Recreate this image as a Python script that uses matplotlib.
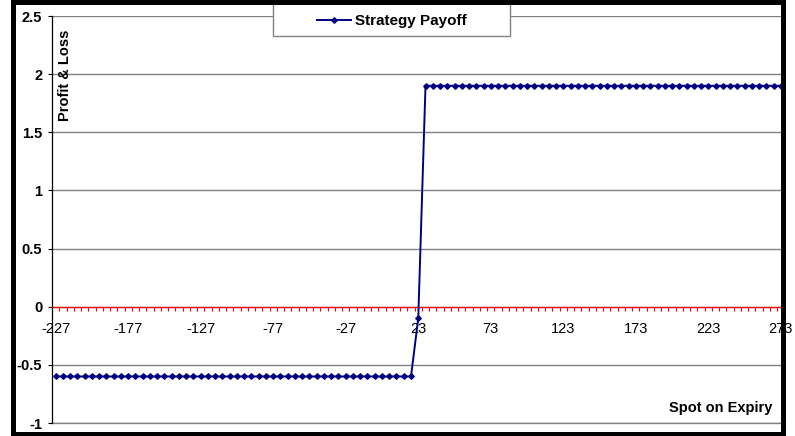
import matplotlib
matplotlib.use("Agg")
import matplotlib.pyplot as plt
from matplotlib.patches import Rectangle
import numpy as np

plt.rcParams['font.family'] = ['Liberation Sans', 'DejaVu Sans']

# spot prices on expiry, step of 5
spot = list(range(-227, 274, 5))
# strategy payoff at each spot
payoff = [-0.6] * 50 + [-0.1] + [1.9] * 50

y_ticks = [-1, -0.5, 0, 0.5, 1, 1.5, 2, 2.5]
y_labels = ['-1', '-0.5', '0', '0.5', '1', '1.5', '2', '2.5']

W, H = 795, 436
fig = plt.figure(figsize=(W / 100, H / 100), dpi=100)
ax = fig.add_axes([52 / W, 13 / H, 732.5 / W, 407 / H])

idx = np.arange(len(spot))
line, = ax.plot(idx, payoff, color='#000080', lw=1.4, marker='D', markersize=2.8,
                label='Strategy Payoff', zorder=4)

ax.set_xlim(-0.5, len(spot) - 0.5)
ax.set_ylim(-1, 2.5)

# y axis, grey gridlines
ax.set_yticks(y_ticks)
ax.set_yticklabels(y_labels, fontweight='bold', fontsize=10.5)
ax.tick_params(axis='y', length=3, width=0.8, pad=4, color='black')
ax.grid(axis='y', color='#808080', lw=1.0)
ax.axhline(-1, color='#808080', lw=1.0, clip_on=False, zorder=0.5)
ax.set_axisbelow(True)

# category axis drawn at zero in red
for s in ['top', 'right']:
    ax.spines[s].set_visible(False)
ax.spines['left'].set_linewidth(0.9)
ax.spines['bottom'].set_position(('data', 0))
ax.spines['bottom'].set_color('#ff0000')
ax.spines['bottom'].set_linewidth(0.9)
ax.spines['bottom'].set_zorder(3)

ax.set_xticks(idx[::10])
ax.set_xticklabels([str(s) for s in spot[::10]], fontsize=10.5)
ax.set_xticks(idx[:-1] + 0.5, minor=True)
ax.tick_params(axis='x', which='major', length=0, pad=11)
ax.tick_params(axis='x', which='minor', length=3, width=0.8, color='#ff0000', direction='out')

fig.text(65 / W, 1 - 75 / H, 'Profit & Loss', rotation=90, fontweight='bold',
         fontsize=10.5, ha='center', va='center')
fig.text(772 / W, 1 - 408 / H, 'Spot on Expiry', fontweight='bold',
         fontsize=10.5, ha='right', va='center')

# legend box at the top
fig.add_artist(Rectangle((273 / W, 1 - 36 / H), 237 / W, 40 / H, transform=fig.transFigure,
                         facecolor='white', edgecolor='#808080', lw=1.0, zorder=4))
fig.legend(handles=[line], loc='center', bbox_to_anchor=(392 / W, 1 - 21 / H),
           frameon=False, prop={'weight': 'bold', 'size': 11}, handlelength=2.2,
           handletextpad=0.3)

# heavy black frame around the chart
fig.add_artist(Rectangle((13 / W, 2 / H), 769.5 / W, 431.5 / H, transform=fig.transFigure,
                         facecolor='none', edgecolor='black', lw=3.6, zorder=10))

fig.savefig('out.png', dpi=100)
